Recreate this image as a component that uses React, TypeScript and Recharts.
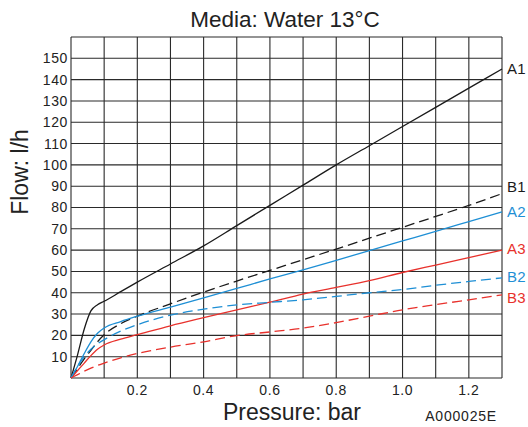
import React from "react";
import { LineChart, Line, XAxis, YAxis, CartesianGrid, LabelList } from "recharts";

const pressure = [0, 0.02, 0.04, 0.06, 0.08, 0.1, 0.15, 0.2, 0.3, 0.4, 0.5, 0.6, 0.7, 0.8, 0.9, 1.0, 1.1, 1.2, 1.3];

const flowA1 = [0, 11, 23, 31.5, 34.4, 36, 40.5, 45, 53.5, 62, 71.5, 81, 90.5, 100, 109, 118, 127, 136, 145];
const flowB1 = [0, 4.5, 9, 13, 17, 20.3, 25.5, 29, 34.8, 40.3, 45.5, 50.5, 55.5, 60.5, 65.6, 70.7, 75.8, 81, 86.5];
const flowA2 = [0, 5.5, 11.5, 17, 21, 23.5, 26.5, 29, 33.3, 37.6, 42, 46.5, 50.7, 55.2, 59.8, 64.3, 68.8, 73.4, 78];
const flowB2 = [0, 5.5, 10, 13.5, 16, 18, 22, 25, 29.5, 32.3, 34.3, 35.5, 36.7, 38.3, 40, 41.5, 43.5, 45.3, 47];
const flowA3 = [0, 3.5, 7, 10.5, 13.5, 15.5, 18.2, 20.3, 24.5, 28.3, 32, 35.6, 39.4, 42.5, 45.7, 49.5, 53, 56.5, 60];
const flowB3 = [0, 1.6, 3.2, 4.6, 5.9, 7, 9.5, 11.5, 14.5, 17, 19.9, 21.6, 23.4, 26, 29, 32, 34.4, 36.7, 39];

const xGrid = [0, 0.1, 0.2, 0.3, 0.4, 0.5, 0.6, 0.7, 0.8, 0.9, 1.0, 1.1, 1.2, 1.3];
const xLabels = ["0.2", "0.4", "0.6", "0.8", "1.0", "1.2"];
const yGrid = [0, 10, 20, 30, 40, 50, 60, 70, 80, 90, 100, 110, 120, 130, 140, 150, 160];
const yLabels = [10, 20, 30, 40, 50, 60, 70, 80, 90, 100, 110, 120, 130, 140, 150];

const BLACK = "#1a1a1a";
const BLUE = "#1e8fd5";
const RED = "#e8312c";
const FONT = "'Liberation Sans', Arial, sans-serif";

const toData = (ys: number[]) => pressure.map((x, i) => ({ x, y: ys[i] }));

const series = [
  { name: "A1", ys: flowA1, color: BLACK, dash: undefined, dy: 0 },
  { name: "B1", ys: flowB1, color: BLACK, dash: "10 5", dy: -7 },
  { name: "A2", ys: flowA2, color: BLUE, dash: undefined, dy: 0 },
  { name: "A3", ys: flowA3, color: RED, dash: undefined, dy: -2 },
  { name: "B2", ys: flowB2, color: BLUE, dash: "10 5", dy: -1 },
  { name: "B3", ys: flowB3, color: RED, dash: "10 5", dy: 3 },
];

const endLabel = (name: string, color: string, dy: number) => (props: any) => {
  if (props.index !== pressure.length - 1) return null;
  return (
    <text
      x={props.x + 5}
      y={props.y + dy}
      dy="0.36em"
      fill={color}
      fontSize={15}
      fontFamily={FONT}
      letterSpacing={0.3}
    >
      {name}
    </text>
  );
};

export default function App() {
  return (
    <div style={{ position: "absolute", left: 0, top: 0, width: 528, height: 427, background: "#fff" }}>
      <LineChart width={528} height={427} margin={{ top: 37, right: 26, bottom: 19, left: 0 }}>
        <CartesianGrid stroke="#2a2a2a" strokeWidth={1.1} />
        <XAxis
          type="number"
          dataKey="x"
          domain={[0, 1.3]}
          ticks={xGrid}
          tickFormatter={(v: number) => (xLabels.includes(v.toFixed(1)) ? v.toFixed(1) : "")}
          axisLine={false}
          tickLine={false}
          tickSize={0}
          tickMargin={7}
          height={30}
          tick={{ fontSize: 14, fill: "#222", fontFamily: FONT, letterSpacing: 0.6 }}
          interval={0}
        />
        <YAxis
          type="number"
          domain={[0, 160]}
          ticks={yGrid}
          tickFormatter={(v: number) => (yLabels.includes(v) ? String(v) : "")}
          axisLine={false}
          tickLine={false}
          tickSize={0}
          tickMargin={3}
          width={71}
          tick={{ fontSize: 14, fill: "#222", fontFamily: FONT, letterSpacing: 0.6 }}
          interval={0}
        />
        {series.map((s) => (
          <Line
            key={s.name}
            data={toData(s.ys)}
            dataKey="y"
            type="monotone"
            stroke={s.color}
            strokeWidth={1.3}
            strokeDasharray={s.dash}
            dot={false}
            activeDot={false}
            isAnimationActive={false}
          >
            <LabelList dataKey="y" content={endLabel(s.name, s.color, s.dy)} />
          </Line>
        ))}
      </LineChart>
      <svg
        width={528}
        height={427}
        style={{ position: "absolute", left: 0, top: 0, pointerEvents: "none" }}
      >
        <text x={285} y={27} textAnchor="middle" fontSize={22.5} fontFamily={FONT} fill="#222">
          Media: Water 13°C
        </text>
        <text x={292} y={420} textAnchor="middle" fontSize={23} fontFamily={FONT} fill="#222">
          Pressure: bar
        </text>
        <text x={497} y={421} textAnchor="end" fontSize={14} fontFamily={FONT} fill="#222" letterSpacing={0.8}>
          A000025E
        </text>
        <text
          x={0}
          y={0}
          transform="translate(28,172) rotate(-90)"
          textAnchor="middle"
          fontSize={23}
          fontFamily={FONT}
          fill="#222"
        >
          Flow: l/h
        </text>
      </svg>
    </div>
  );
}
